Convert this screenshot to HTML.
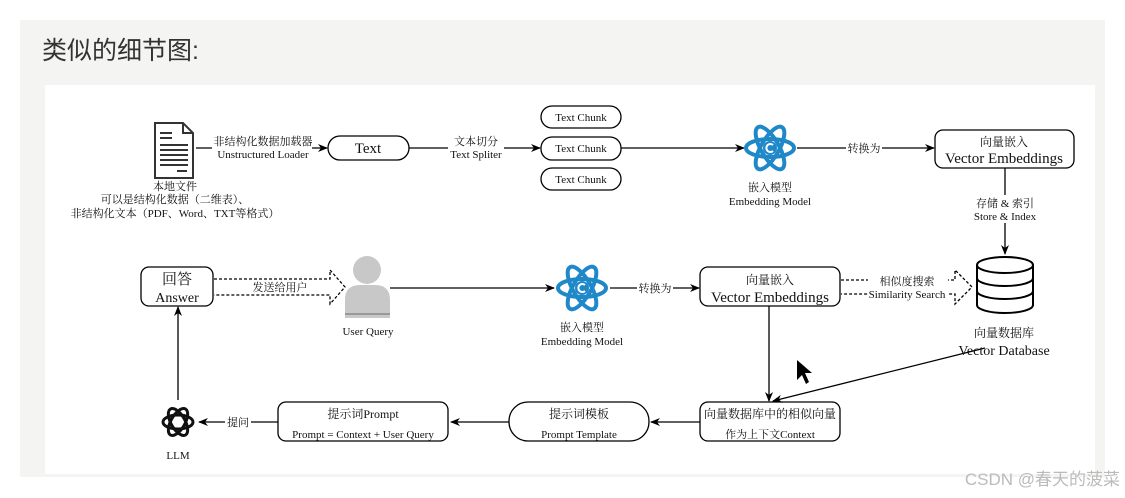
<!DOCTYPE html>
<html><head><meta charset="utf-8"><style>
html,body{margin:0;padding:0;background:#fff;width:1125px;height:498px;overflow:hidden}
svg{display:block}
.s{font-family:"Liberation Serif","Noto Serif CJK SC","Noto Sans CJK SC",serif;fill:#111}
.c{font-family:"Liberation Sans","Noto Sans CJK SC",sans-serif;fill:#111}
</style></head><body>
<svg width="1125" height="498" viewBox="0 0 1125 498" xmlns="http://www.w3.org/2000/svg">
<defs>
<marker id="a" markerWidth="10" markerHeight="10" refX="9" refY="5" orient="auto" markerUnits="userSpaceOnUse"><path d="M0,1 L10,5 L0,9 L3,5z" fill="#000"/></marker>
<g id="atom" fill="none" stroke="#1f88c8" stroke-width="4">
<ellipse cx="0" cy="0" rx="24" ry="9"/>
<ellipse cx="0" cy="0" rx="24" ry="9" transform="rotate(60)"/>
<ellipse cx="0" cy="0" rx="24" ry="9" transform="rotate(-60)"/>
<circle cx="0" cy="0" r="7" fill="#1f88c8" stroke="none"/>
<path d="M3,-3 A4,4 0 1 0 3,3" stroke="#fff" stroke-width="2"/>
</g>
</defs>
<rect x="20" y="20" width="1085" height="457" fill="#f4f4f2"/>
<text x="42" y="59" class="c" style="font-size:25px;fill:#333">类似的细节图:</text>
<rect x="45" y="85" width="1050" height="389" fill="#fff"/>
<g stroke="#000" stroke-width="1.3" fill="none">
<!-- doc icon -->
<path d="M155,123 H183 L193,133 V178 H155Z" stroke="#333" stroke-width="2"/>
<path d="M183,123 V133 H193" stroke="#333" stroke-width="2"/>
<path d="M160,133h12M160,138h12M160,145h28M160,150h28M160,155h28M160,160h28M160,165h28M177,171h10" stroke="#333" stroke-width="2"/>
<line x1="196" y1="148" x2="327" y2="148" marker-end="url(#a)"/>
<rect x="328" y="136" width="81" height="24" rx="12"/>
<line x1="409" y1="148" x2="540" y2="148" marker-end="url(#a)"/>
<rect x="541" y="106" width="80" height="22" rx="11"/>
<rect x="541" y="137" width="80" height="23" rx="11"/>
<rect x="541" y="168" width="80" height="22" rx="11"/>
<line x1="621" y1="148" x2="744" y2="148" marker-end="url(#a)"/>
<line x1="797" y1="148" x2="934" y2="148" marker-end="url(#a)"/>
<rect x="935" y="130" width="139" height="38" rx="8"/>
<line x1="1005" y1="168" x2="1005" y2="254" marker-end="url(#a)"/>
<!-- DB -->
<path d="M977,265 V305 A28,8 0 0 0 1033,305 V265" fill="#fff" stroke-width="2"/>
<ellipse cx="1005" cy="265" rx="28" ry="8" fill="#fff" stroke-width="2"/>
<path d="M977,278 A28,8 0 0 0 1033,278 M977,291 A28,8 0 0 0 1033,291" stroke-width="2"/>
<rect x="141" y="267" width="72" height="39" rx="8"/>
<line x1="390" y1="288" x2="554" y2="288" marker-end="url(#a)"/>
<line x1="610" y1="288" x2="699" y2="288" marker-end="url(#a)"/>
<rect x="700" y="267" width="140" height="39" rx="8"/>
<line x1="769" y1="306" x2="769" y2="401" marker-end="url(#a)"/>
<line x1="985" y1="348" x2="773" y2="401" marker-end="url(#a)"/>
<rect x="700" y="402" width="140" height="39" rx="8"/>
<line x1="700" y1="422" x2="651" y2="422" marker-end="url(#a)"/>
<rect x="509" y="402" width="140" height="39" rx="19"/>
<line x1="509" y1="422" x2="451" y2="422" marker-end="url(#a)"/>
<rect x="278" y="402" width="170" height="39" rx="8"/>
<line x1="278" y1="422" x2="199" y2="422" marker-end="url(#a)"/>
<line x1="178" y1="400" x2="178" y2="307" marker-end="url(#a)"/>
<!-- dashed hollow arrows -->
<path d="M214,279 H330 V270 L345,287 L330,304 V295 H214" stroke-dasharray="3,2"/>
<path d="M841,280 H955 V270 L972,287 L955,304 V294 H841" stroke-dasharray="3,2"/>
</g>
<!-- user icon -->
<circle cx="367" cy="270" r="14" fill="#c8c8c8"/>
<path d="M345,318 V300 Q345,285 360,285 H375 Q390,285 390,300 V318Z" fill="#c8c8c8"/>
<rect x="345" y="313" width="45" height="2" fill="#999"/>
<use href="#atom" x="770" y="148"/>
<use href="#atom" x="582" y="288"/>
<!-- LLM icon -->
<g fill="none" stroke="#111" stroke-width="3" transform="translate(178,422)">
<ellipse rx="15" ry="7"/><ellipse rx="15" ry="7" transform="rotate(60)"/><ellipse rx="15" ry="7" transform="rotate(-60)"/>
</g>
<!-- cursor -->
<path d="M797,360 L797,380 L802,375 L806,384 L809,382 L805,373 L812,373Z" fill="#000"/>
<!-- labels -->
<g class="s" text-anchor="middle">
<rect x="212" y="134" width="100" height="28" fill="#fff"/>
<text x="263" y="145" font-size="11">非结构化数据加载器</text>
<text x="263" y="158" font-size="11">Unstructured Loader</text>
<text x="368" y="153" font-size="15">Text</text>
<rect x="448" y="134" width="56" height="28" fill="#fff"/>
<text x="476" y="145" font-size="11">文本切分</text>
<text x="476" y="158" font-size="11">Text Spliter</text>
<text x="175" y="190" font-size="11">本地文件</text>
<text x="175" y="203" font-size="11">可以是结构化数据（二维表）、</text>
<text x="175" y="217" font-size="11">非结构化文本（PDF、Word、TXT等格式）</text>
<text x="581" y="121" font-size="11">Text Chunk</text>
<text x="581" y="152" font-size="11">Text Chunk</text>
<text x="581" y="183" font-size="11">Text Chunk</text>
<text x="770" y="191" font-size="11">嵌入模型</text>
<text x="770" y="205" font-size="11">Embedding Model</text>
<rect x="846" y="141" width="36" height="14" fill="#fff"/>
<text x="864" y="152" font-size="11">转换为</text>
<text x="1004" y="146" font-size="12">向量嵌入</text>
<text x="1004" y="163" font-size="15">Vector Embeddings</text>
<rect x="972" y="195" width="66" height="28" fill="#fff"/>
<text x="1005" y="207" font-size="11">存储 &amp; 索引</text>
<text x="1005" y="220" font-size="11">Store &amp; Index</text>
<text x="1004" y="337" font-size="12">向量数据库</text>
<text x="1004" y="355" font-size="14">Vector Database</text>
<text x="177" y="284" font-size="15">回答</text>
<text x="177" y="302" font-size="14">Answer</text>
<rect x="252" y="280" width="56" height="14" fill="#fff"/>
<text x="280" y="291" font-size="11">发送给用户</text>
<text x="368" y="335" font-size="11">User Query</text>
<text x="582" y="331" font-size="11">嵌入模型</text>
<text x="582" y="345" font-size="11">Embedding Model</text>
<rect x="637" y="281" width="36" height="14" fill="#fff"/>
<text x="655" y="292" font-size="11">转换为</text>
<text x="770" y="284" font-size="12">向量嵌入</text>
<text x="770" y="302" font-size="15">Vector Embeddings</text>
<rect x="868" y="274" width="80" height="26" fill="#fff"/>
<text x="907" y="285" font-size="11">相似度搜索</text>
<text x="907" y="298" font-size="11">Similarity Search</text>
<text x="770" y="418" font-size="12">向量数据库中的相似向量</text>
<text x="770" y="438" font-size="11">作为上下文Context</text>
<text x="579" y="418" font-size="12">提示词模板</text>
<text x="579" y="438" font-size="11">Prompt Template</text>
<text x="363" y="418" font-size="12">提示词Prompt</text>
<text x="363" y="438" font-size="11">Prompt = Context + User Query</text>
<rect x="225" y="416" width="26" height="13" fill="#fff"/>
<text x="238" y="426" font-size="11">提问</text>
<text x="178" y="459" font-size="11">LLM</text>
</g>
<text x="1120" y="485" text-anchor="end" class="c" style="font-size:17px;fill:#bbb">CSDN @春天的菠菜</text>
</svg>
</body></html>
